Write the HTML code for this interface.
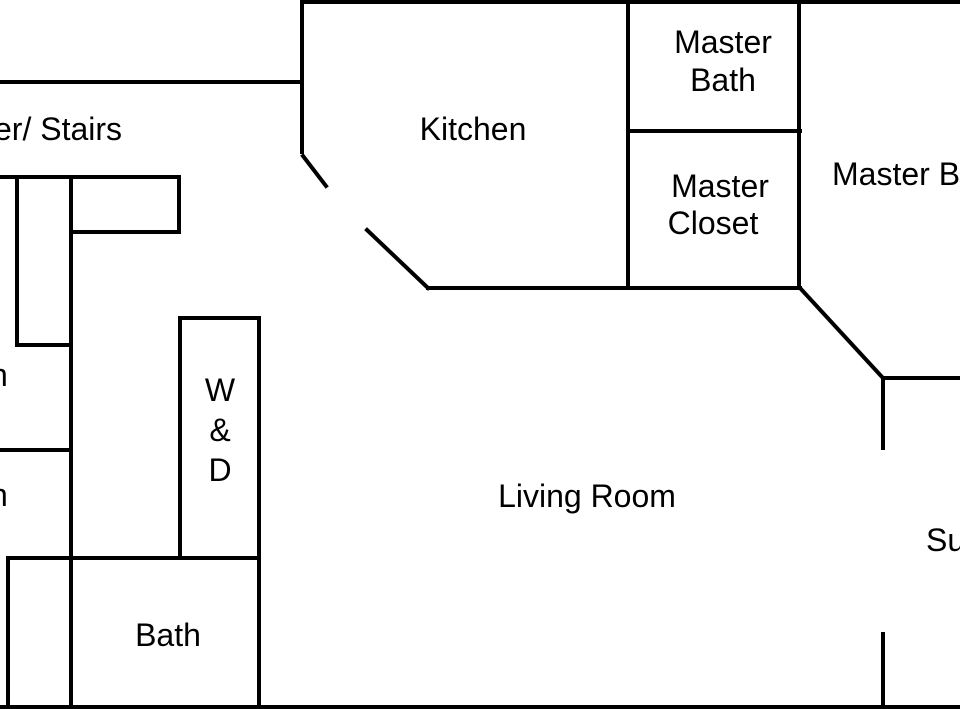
<!DOCTYPE html>
<html><head><meta charset="utf-8"><style>
html,body{margin:0;padding:0;background:#fff;}
svg{display:block;}
text{font-family:"Liberation Sans",sans-serif;font-size:32px;fill:#000;}
</style></head><body>
<svg width="960" height="709" viewBox="0 0 960 709" xmlns="http://www.w3.org/2000/svg">
<g stroke="#000" stroke-width="4" fill="none" stroke-linecap="square">
<line x1="302" y1="2" x2="960" y2="2"/>
<line x1="0" y1="82" x2="302" y2="82"/>
<line x1="302" y1="2" x2="302" y2="152"/>
<line x1="303" y1="156" x2="326" y2="186"/>
<line x1="367" y1="230" x2="428" y2="288"/>
<line x1="428" y1="288" x2="800" y2="288"/>
<line x1="628" y1="2" x2="628" y2="288"/>
<line x1="628" y1="131" x2="800" y2="131"/>
<line x1="799" y1="2" x2="799" y2="288"/>
<line x1="800" y1="288" x2="883" y2="378"/>
<line x1="883" y1="378" x2="960" y2="378"/>
<line x1="883" y1="378" x2="883" y2="448"/>
<line x1="883" y1="634" x2="883" y2="709"/>
<line x1="0" y1="707" x2="960" y2="707"/>
<line x1="0" y1="177" x2="179" y2="177"/>
<line x1="179" y1="177" x2="179" y2="232"/>
<line x1="71" y1="232" x2="179" y2="232"/>
<line x1="71" y1="177" x2="71" y2="707"/>
<line x1="17" y1="177" x2="17" y2="345"/>
<line x1="17" y1="345" x2="71" y2="345"/>
<line x1="0" y1="450" x2="71" y2="450"/>
<line x1="8" y1="558" x2="259" y2="558"/>
<line x1="8" y1="558" x2="8" y2="707"/>
<line x1="180" y1="318" x2="259" y2="318"/>
<line x1="180" y1="318" x2="180" y2="558"/>
<line x1="259" y1="318" x2="259" y2="707"/>
</g>
<text x="-6" y="140">er/ Stairs</text>
<text x="473" y="140" text-anchor="middle">Kitchen</text>
<text x="723" y="53" text-anchor="middle">Master</text>
<text x="723" y="91" text-anchor="middle">Bath</text>
<text x="720" y="197" text-anchor="middle">Master</text>
<text x="713" y="234" text-anchor="middle">Closet</text>
<text x="832" y="185">Master B</text>
<text x="-10" y="386">h</text>
<text x="-10" y="506">n</text>
<text x="220" y="401" text-anchor="middle">W</text>
<text x="220" y="441" text-anchor="middle">&amp;</text>
<text x="220" y="481" text-anchor="middle">D</text>
<text x="587" y="507" text-anchor="middle">Living Room</text>
<text x="926" y="551">Su</text>
<text x="168" y="646" text-anchor="middle">Bath</text>
</svg>
</body></html>
